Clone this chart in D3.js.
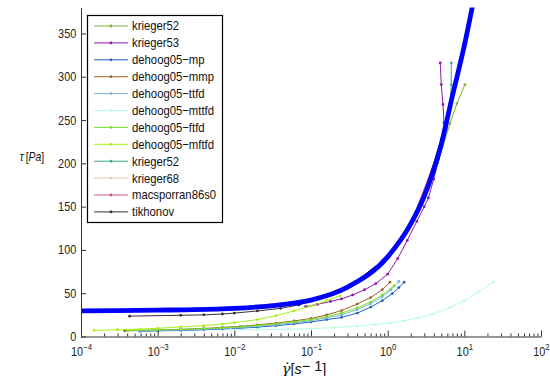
<!DOCTYPE html>
<html>
<head>
<meta charset="utf-8">
<script src="https://cdn.jsdelivr.net/npm/d3@7.9.0/dist/d3.min.js"></script>
<style>
  body { margin: 0; background: #fff; }
  svg { font-family: "Liberation Sans", Arial, sans-serif; }
</style>
</head>
<body>
<svg id="chart" width="550" height="376"></svg>
<script>
// tick values
const xTicks = [1e-4, 1e-3, 1e-2, 1e-1, 1, 10, 100];
const xExponents = ['\u22124', '\u22123', '\u22122', '\u22121', '0', '1', '2'];
const yTicks = [0, 50, 100, 150, 200, 250, 300, 350];

// series, [shear rate, stress]
const krieger52a = [[1, 92], [2, 128], [3, 160], [4.5, 200], [6.5, 246], [8.0, 269], [10.2, 291]];
const krieger53 = [[0.085, 34.6], [0.12, 37], [0.18, 40.5], [0.25, 43.5], [0.35, 48], [0.5, 54], [0.7, 61],
  [1.0, 72], [1.35, 90], [1.8, 111], [2.4, 133], [3.0, 150], [3.4, 160], [4.0, 182], [4.6, 205],
  [5.1, 226], [5.43, 247], [5.27, 268], [5.0, 291], [4.85, 316]];
const dehoogMp = [[5.9e-4, 6], [1e-3, 6.5], [2e-3, 7], [4e-3, 7.8], [7e-3, 8.6], [1.2e-2, 9.6], [2e-2, 10.8],
  [3.5e-2, 12.5], [6e-2, 14.5], [0.1, 16.8], [0.16, 19.5], [0.25, 22], [0.4, 27], [0.6, 34], [0.85, 41.5],
  [1.15, 49.5], [1.4, 56.5], [1.64, 62.7]];
const dehoogMmp = [[3.7e-4, 6.5], [1e-3, 7.5], [2e-3, 8.3], [4e-3, 9.3], [7e-3, 10.5], [1.2e-2, 11.8],
  [2e-2, 13.4], [3.5e-2, 15.5], [6e-2, 18], [0.1, 20.8], [0.16, 25], [0.25, 30], [0.4, 37.5], [0.6, 45],
  [0.85, 54], [1.07, 62.7]];
const dehoogTtfd = [[6e-4, 6.5], [1e-3, 7], [2e-3, 7.5], [4e-3, 8.3], [7e-3, 9.2], [1.2e-2, 10.3], [2e-2, 11.7],
  [3.5e-2, 13.5], [6e-2, 15.8], [0.1, 18.3], [0.16, 21.5], [0.25, 25], [0.4, 31], [0.6, 38], [0.85, 46],
  [1.1, 54], [1.4, 63.5]];
const dehoogMttfd = [[9e-3, 7.5], [2e-2, 7.8], [5e-2, 8.3], [0.1, 9], [0.2, 10.3], [0.4, 12], [0.7, 14],
  [1.07, 15.5], [1.6, 18], [2.5, 21.5], [4, 26.5], [6.5, 33.5], [10, 41.5], [15, 51], [24, 63]];
const dehoogFtfd = [[4e-4, 7], [1e-3, 7.5], [2e-3, 8.2], [4e-3, 9], [7e-3, 10], [1.2e-2, 11.2], [2e-2, 12.7],
  [3.5e-2, 14.6], [6e-2, 17], [0.1, 19.5], [0.16, 23], [0.25, 27], [0.4, 33], [0.6, 40], [0.85, 48],
  [1.21, 58.5]];
const dehoogMftfd = [[1.48e-4, 7], [3e-4, 7.8], [6e-4, 8.6], [1e-3, 9.5], [2e-3, 11], [4e-3, 12.5],
  [7e-3, 14.3], [1e-2, 16], [2e-2, 19.5], [3.5e-2, 24], [6e-2, 29.5], [0.1, 35], [0.16, 41.5], [0.24, 47]];
const krieger52b = [[1, 90], [2, 128], [3, 160], [4.5, 203], [5.9, 240], [6.5, 265], [6.76, 291], [6.76, 316]];
const krieger68 = [[3, 162], [5, 220], [7.5, 285], [8.2, 300], [8.6, 316]];
const macsporran86s0 = [[1e-4, 30], [1e-3, 31], [1e-2, 33], [0.1, 42], [0.3, 56], [1, 92], [2, 130], [5, 222]];
const tikhonov = [[4.3e-4, 23.5], [2e-3, 24.5], [4e-3, 25], [7e-3, 26], [1e-2, 27], [2e-2, 29.5], [4e-2, 32.5],
  [7e-2, 36.5], [0.1, 41], [0.3, 56], [1, 92], [2, 132], [3, 166], [5, 228], [7.55, 292]];
const fitCurve = [[1e-4, 29.5], [1e-3, 30.5], [3e-3, 31], [1e-2, 32.5], [3e-2, 35.5], [0.1, 42], [0.3, 57],
  [1, 92], [2, 130], [3, 162], [5, 222], [7, 278], [10, 336], [13, 385]];

const seriesNames = ['krieger52', 'krieger53', 'dehoog05\u2212mp', 'dehoog05\u2212mmp', 'dehoog05\u2212ttfd',
  'dehoog05\u2212mttfd', 'dehoog05\u2212ftfd', 'dehoog05\u2212mftfd', 'krieger52', 'krieger68',
  'macsporran86s0', 'tikhonov'];
const seriesData = [krieger52a, krieger53, dehoogMp, dehoogMmp, dehoogTtfd, dehoogMttfd, dehoogFtfd,
  dehoogMftfd, krieger52b, krieger68, macsporran86s0, tikhonov];
const seriesColors = ['#7ab33c', '#8e1aa6', '#1f62c4', '#9c6428', '#7fb0dd', '#b6fde0', '#74e022',
  '#a6f01c', '#3fa88c', '#f2c4a4', '#c8557a', '#3a2f33'];

const svg = d3.select('#chart');
const plotLeft = 81, plotRight = 541, plotTop = 7.5, plotBottom = 336.5;
const squeeze = 0.87; // the reference text is narrower than Liberation Sans

let x = d3.scaleLog().domain([1e-4, 1e2]).range([plotLeft, plotRight]);
let y = d3.scaleLinear().domain([0, 380]).range([plotBottom, plotTop]);

svg.append('clipPath').attr('id', 'plot')
  .append('rect').attr('x', plotLeft).attr('y', plotTop)
  .attr('width', plotRight - plotLeft).attr('height', plotBottom - plotTop);

let line = d3.line().x(d => x(d[0])).y(d => y(d[1]));
let plot = svg.append('g').attr('clip-path', 'url(#plot)');

seriesData.forEach((data, i) => {
  plot.append('path')
    .attr('d', line(data))
    .attr('fill', 'none')
    .attr('stroke', seriesColors[i])
    .attr('stroke-width', 1);
  plot.selectAll(null).data(data).join('circle')
    .attr('cx', d => x(d[0]))
    .attr('cy', d => y(d[1]))
    .attr('r', 1.4)
    .attr('fill', seriesColors[i]);
});

plot.append('path')
  .attr('d', d3.line().x(d => x(d[0])).y(d => y(d[1])).curve(d3.curveMonotoneX)(fitCurve))
  .attr('fill', 'none')
  .attr('stroke', '#0000ff')
  .attr('stroke-width', 4.8);

// axes
let minorTicks = [];
for (let e = -4; e < 2; e++) {
  for (let k = 1; k < 10; k++) minorTicks.push(k * Math.pow(10, e));
}
minorTicks.push(100);

let xAxis = svg.append('g')
  .attr('transform', `translate(0,${plotBottom})`)
  .call(d3.axisBottom(x).tickValues(minorTicks).tickFormat(() => '').tickSizeOuter(0));
xAxis.selectAll('.tick line')
  .attr('y2', d => xTicks.some(t => Math.abs(t - d) / t < 1e-9) ? -6 : -3);

let yAxis = svg.append('g')
  .attr('transform', `translate(${plotLeft},0)`)
  .call(d3.axisLeft(y).tickValues(yTicks).tickSizeInner(-5).tickSizeOuter(0).tickPadding(5.5));
yAxis.selectAll('text')
  .attr('font-size', 12.5).attr('fill', '#222')
  .attr('font-family', 'Liberation Sans, Arial, sans-serif')
  .attr('transform', `scale(${squeeze},1)`);

[xAxis, yAxis].forEach(a => {
  a.select('.domain').attr('stroke', '#333');
  a.selectAll('.tick line').attr('stroke', '#333');
});

xTicks.forEach((t, i) => {
  let label = svg.append('text')
    .attr('x', (x(t) + 0.5) / squeeze)
    .attr('y', 356)
    .attr('text-anchor', 'middle')
    .attr('transform', `scale(${squeeze},1)`)
    .attr('font-size', 12.5)
    .attr('fill', '#222');
  label.append('tspan').text('10');
  label.append('tspan').attr('dy', -6).attr('font-size', 9).text(xExponents[i]);
});

// axis titles
let xTitle = svg.append('text')
  .attr('x', 304).attr('y', 374)
  .attr('text-anchor', 'middle')
  .attr('font-size', 14.5)
  .attr('fill', '#111');
xTitle.append('tspan').attr('font-family', 'DejaVu Serif, serif').attr('font-style', 'italic').text('\u03b3\u0307');
xTitle.append('tspan').text('[');
xTitle.append('tspan').attr('font-style', 'italic').text('s');
xTitle.append('tspan').attr('dy', -3).text('\u2212 1');
xTitle.append('tspan').attr('dy', 3).text(']');

let yTitle = svg.append('text')
  .attr('x', 32 / squeeze).attr('y', 161)
  .attr('text-anchor', 'middle')
  .attr('transform', `scale(${squeeze},1)`)
  .attr('font-size', 12)
  .attr('fill', '#111');
yTitle.append('tspan').attr('font-style', 'italic').text('\u03c4');
yTitle.append('tspan').text('\u2009[');
yTitle.append('tspan').attr('font-style', 'italic').text('Pa');
yTitle.append('tspan').text(']');

// legend
let legend = svg.append('g');
legend.append('rect')
  .attr('x', 87.5).attr('y', 15.5).attr('width', 135).attr('height', 207)
  .attr('fill', '#fff').attr('stroke', '#000').attr('stroke-width', 1.2);

seriesNames.forEach((name, i) => {
  let ly = 26 + i * 16.9;
  legend.append('line')
    .attr('x1', 94).attr('x2', 128).attr('y1', ly).attr('y2', ly)
    .attr('stroke', seriesColors[i]).attr('stroke-width', 1);
  legend.append('circle')
    .attr('cx', 111).attr('cy', ly).attr('r', 1.4).attr('fill', seriesColors[i]);
  legend.append('text')
    .attr('x', 132 / squeeze).attr('y', ly + 4.5)
    .attr('transform', `scale(${squeeze},1)`)
    .attr('font-size', 13)
    .attr('fill', '#111')
    .text(name);
});
</script>
</body>
</html>
